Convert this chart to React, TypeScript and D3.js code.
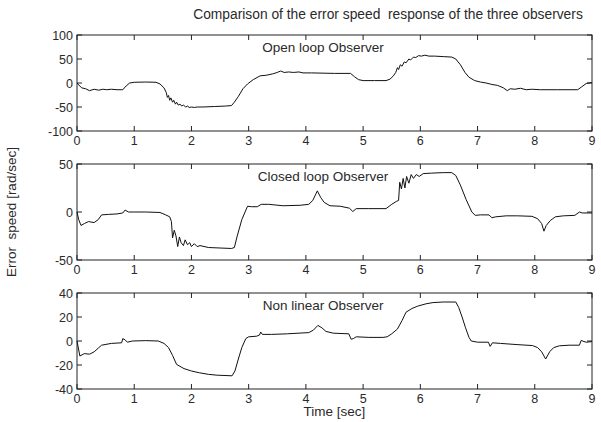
import React from "react";
import * as d3 from "d3";

const xTicks = [0, 1, 2, 3, 4, 5, 6, 7, 8, 9];
const yTicksOpen = [-100, -50, 0, 50, 100];
const yTicksClosed = [-50, 0, 50];
const yTicksNonlin = [-40, -20, 0, 20, 40];

const chartTitle = "Comparison of the error speed  response of the three observers";
const panelTitles = ["Open loop Observer", "Closed loop Observer", "Non linear Observer"];
const xLabel = "Time [sec]";
const yLabel = "Error  speed [rad/sec]";

const openLoop: [number, number][] = [
  [0, 0], [0.03, -4], [0.08, -10], [0.15, -12], [0.22, -16], [0.3, -13], [0.38, -15], [0.45, -13],
  [0.52, -14], [0.6, -13], [0.7, -14], [0.8, -14], [0.86, -6], [0.92, 0], [1.0, 1.5], [1.2, 2],
  [1.38, 1.5], [1.45, -2], [1.52, -10], [1.56, -20], [1.58, -30], [1.6, -26], [1.62, -36], [1.64, -31],
  [1.67, -40], [1.69, -36], [1.72, -44], [1.74, -40], [1.77, -46], [1.8, -44], [1.83, -48], [1.86, -46],
  [1.9, -50], [1.93, -48], [1.96, -51], [2.0, -50], [2.05, -51], [2.1, -50], [2.2, -50], [2.4, -49],
  [2.6, -48], [2.7, -47], [2.75, -40], [2.82, -28], [2.9, -12], [2.98, -2], [3.08, 7], [3.2, 15],
  [3.3, 16], [3.42, 19], [3.5, 22], [3.56, 25], [3.62, 22], [3.7, 23], [3.78, 22], [3.88, 23],
  [3.95, 21], [4.1, 21], [4.5, 20], [4.78, 20], [4.85, 13], [4.92, 7], [5.0, 5], [5.2, 5], [5.4, 5],
  [5.47, 8], [5.53, 15], [5.57, 22], [5.6, 32], [5.62, 28], [5.65, 38], [5.68, 35], [5.72, 44],
  [5.75, 42], [5.8, 50], [5.83, 48], [5.88, 54], [5.92, 53], [5.97, 57], [6.02, 56], [6.08, 58],
  [6.15, 56], [6.25, 56], [6.4, 55], [6.55, 54], [6.62, 50], [6.7, 38], [6.78, 22], [6.85, 12],
  [6.95, 5], [7.05, 2], [7.15, 0], [7.25, -3], [7.35, -5], [7.45, -10], [7.52, -16], [7.57, -12],
  [7.65, -13], [7.75, -11], [7.85, -14], [7.95, -13], [8.1, -14], [8.4, -14], [8.75, -14],
  [8.82, -8], [8.9, -1], [9, 1],
];

const closedLoop: [number, number][] = [
  [0, 0], [0.03, -8], [0.07, -14], [0.13, -12], [0.2, -10], [0.3, -11], [0.37, -8], [0.43, -3],
  [0.55, -2.5], [0.7, -2], [0.8, -1], [0.84, 2], [0.9, 0], [1.0, 0], [1.2, 0], [1.45, -0.5],
  [1.55, -3], [1.62, -5], [1.65, -10], [1.67, -27], [1.7, -19], [1.73, -25], [1.76, -36], [1.79, -26],
  [1.82, -32], [1.86, -35], [1.89, -29], [1.93, -34], [1.97, -32], [2.0, -36], [2.05, -33],
  [2.1, -36], [2.15, -35], [2.3, -37], [2.5, -37.5], [2.7, -38], [2.75, -37], [2.8, -25],
  [2.88, -8], [2.98, 6], [3.05, 5.5], [3.15, 5.5], [3.22, 8], [3.35, 8], [3.6, 6.5], [3.9, 7],
  [4.05, 8], [4.12, 12], [4.2, 22], [4.26, 15], [4.32, 10], [4.42, 6.5], [4.6, 6], [4.76, 4],
  [4.82, 0.5], [4.88, 3.5], [5.1, 3.5], [5.4, 3.5], [5.5, 8], [5.58, 11], [5.62, 12], [5.64, 31],
  [5.67, 24], [5.7, 35], [5.73, 25], [5.76, 37], [5.8, 30], [5.84, 39], [5.88, 35], [5.93, 39],
  [5.98, 37], [6.05, 40], [6.2, 40.5], [6.4, 41], [6.55, 41], [6.62, 38], [6.7, 28], [6.8, 13],
  [6.9, 0], [6.96, -3.5], [7.05, -3], [7.2, -3], [7.25, -6], [7.32, -5], [7.5, -4], [7.7, -4],
  [7.95, -4.5], [8.05, -7], [8.12, -12], [8.16, -20], [8.2, -14], [8.27, -9], [8.36, -5],
  [8.5, -4], [8.7, -3.5], [8.78, 0], [8.83, -1], [9, -1],
];

const nonLinear: [number, number][] = [
  [0, 0], [0.02, -5], [0.05, -12.5], [0.13, -10.5], [0.22, -11], [0.3, -9], [0.37, -6], [0.43, -3.5],
  [0.6, -2], [0.78, -1.5], [0.8, 2], [0.84, 1], [0.88, -1], [0.97, 0], [1.2, 0.3], [1.42, 0],
  [1.52, -2], [1.6, -5.5], [1.67, -12], [1.74, -19.5], [1.87, -23], [2.0, -25], [2.14, -26.5],
  [2.3, -27.8], [2.45, -28.5], [2.71, -29], [2.76, -25], [2.82, -15], [2.88, -5.5], [2.95, 2],
  [3.0, 3.5], [3.14, 4], [3.19, 5], [3.21, 7.5], [3.24, 5.5], [3.4, 5.5], [3.68, 6], [4.05, 7],
  [4.13, 9], [4.21, 13], [4.28, 11], [4.35, 8], [4.48, 6.5], [4.75, 6], [4.79, 1.5], [4.83, 2],
  [4.88, 3.5], [5.1, 3], [5.35, 3], [5.42, 3.5], [5.5, 6], [5.6, 10], [5.68, 17], [5.75, 24],
  [5.85, 27], [5.95, 29], [6.1, 31], [6.22, 32], [6.4, 32.5], [6.62, 32.5], [6.67, 28], [6.73, 20],
  [6.79, 11], [6.85, 3], [6.89, 0], [7.0, -1], [7.19, -1], [7.22, -4.5], [7.26, -1.5], [7.4, -2],
  [7.69, -3], [7.96, -3.8], [8.05, -5.5], [8.12, -9], [8.19, -15], [8.26, -9], [8.33, -5.5],
  [8.43, -4], [8.6, -3.5], [8.78, -3.5], [8.81, 0.5], [8.86, -0.5], [8.9, -1], [9, -0.5],
];

const W = 601;
const H = 422;
const LEFT = 77;
const RIGHT = 592;
const PANEL_H = 96;
const FONT = "'Liberation Sans', Arial, Helvetica, sans-serif";
const TXT = "#2a2a2a";
const AX = "#222";
const TICK = 5;

const panels = [
  { top: 35, data: openLoop, yTicks: yTicksOpen, title: panelTitles[0] },
  { top: 164, data: closedLoop, yTicks: yTicksClosed, title: panelTitles[1] },
  { top: 293, data: nonLinear, yTicks: yTicksNonlin, title: panelTitles[2] },
];

function Panel({ top, data, yTicks, title }: any) {
  const x = d3.scaleLinear().domain([0, 9]).range([LEFT, RIGHT]);
  const y = d3
    .scaleLinear()
    .domain([yTicks[0], yTicks[yTicks.length - 1]])
    .range([top + PANEL_H, top]);
  const line = d3
    .line<[number, number]>()
    .x((d) => x(d[0]))
    .y((d) => y(d[1]));
  const bottom = top + PANEL_H;
  return (
    <g>
      <rect x={LEFT} y={top} width={RIGHT - LEFT} height={PANEL_H} fill="#fff" stroke={AX} strokeWidth={1} />
      {xTicks.map((t) => (
        <g key={"x" + t}>
          <line x1={x(t)} x2={x(t)} y1={bottom} y2={bottom - TICK} stroke={AX} />
          <line x1={x(t)} x2={x(t)} y1={top} y2={top + TICK} stroke={AX} />
          <text x={x(t)} y={bottom + 13.5} textAnchor="middle" fontSize={12.5} fontFamily={FONT} fill={TXT}>
            {t}
          </text>
        </g>
      ))}
      {yTicks.map((v: number) => (
        <g key={"y" + v}>
          <line x1={LEFT} x2={LEFT + TICK} y1={y(v)} y2={y(v)} stroke={AX} />
          <line x1={RIGHT} x2={RIGHT - TICK} y1={y(v)} y2={y(v)} stroke={AX} />
          <text x={LEFT - 4} y={y(v) + 4.5} textAnchor="end" fontSize={12.5} fontFamily={FONT} fill={TXT}>
            {v}
          </text>
        </g>
      ))}
      <path d={line(data) || ""} fill="none" stroke="#111" strokeWidth={1} strokeLinejoin="round" />
      <text x={x(4.3)} y={top + 17} textAnchor="middle" fontSize={13.5} fontFamily={FONT} fill={TXT}>
        {title}
      </text>
    </g>
  );
}

export default function App() {
  return (
    <svg
      width={W}
      height={H}
      viewBox={`0 0 ${W} ${H}`}
      style={{ position: "absolute", left: 0, top: 0, background: "#fff" }}
    >
      <rect x={0} y={0} width={W} height={H} fill="#fff" />
      <text
        x={388}
        y={19}
        textAnchor="middle"
        fontSize={13.8}
        fontFamily={FONT}
        fill={TXT}
        style={{ whiteSpace: "pre" }}
      >
        {chartTitle}
      </text>
      {panels.map((p, i) => (
        <Panel key={i} {...p} />
      ))}
      <text x={(LEFT + RIGHT) / 2} y={416} textAnchor="middle" fontSize={13.5} fontFamily={FONT} fill={TXT}>
        {xLabel}
      </text>
      <text
        transform={`translate(16, 212) rotate(-90)`}
        textAnchor="middle"
        fontSize={13.5}
        fontFamily={FONT}
        fill={TXT}
        style={{ whiteSpace: "pre" }}
      >
        {yLabel}
      </text>
    </svg>
  );
}
